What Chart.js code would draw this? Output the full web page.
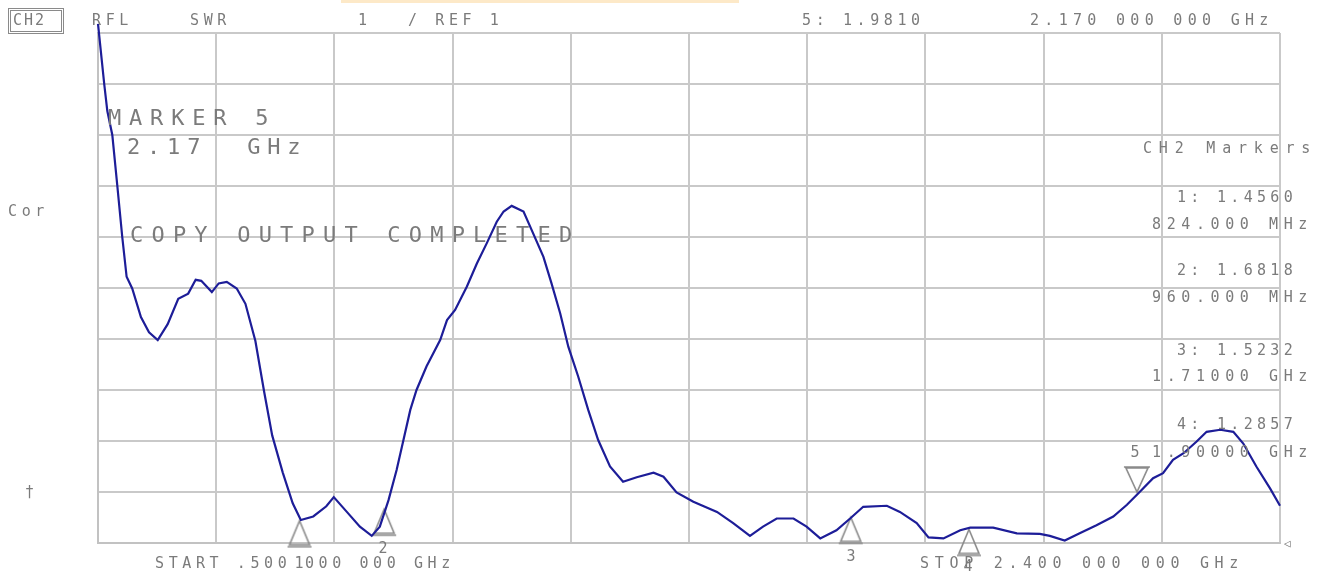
<!DOCTYPE html>
<html>
<head>
<meta charset="utf-8">
<script src="https://cdn.jsdelivr.net/npm/chart.js@4.4.1/dist/chart.umd.min.js"></script>
<style>
    body { margin: 0; background: #fff; }
    #wrap { position: relative; width: 1328px; height: 576px; overflow: hidden; }
    #chart { position: absolute; left: 0; top: 0; }
    .t { position: absolute; font-family: 'DejaVu Sans Mono', monospace; color: #7b7b7b; line-height: 1; white-space: pre; transform: translateY(-50%); font-size: 15px; letter-spacing: 4.6px; }
    .big { font-size: 22px; letter-spacing: 7px; }
    .mk { transform: translate(-50%, -50%); letter-spacing: 0; }
    #ch2box { position: absolute; left: 8px; top: 8px; width: 50px; height: 20px; border: 3px double #8a8a8a; }
    #topbar { position: absolute; left: 341px; top: 0; width: 398px; height: 3px; background: #fde9c8; }
</style>
</head>
<body>
<div id="wrap">
    <canvas id="chart" width="1328" height="576"></canvas>
    <div id="topbar"></div>
    <div id="ch2box"></div>
    <div class="t" style="left:13px; top:20px; letter-spacing:2px;">CH2</div>
    <div class="t" style="left:92px; top:20px;">RFL</div>
    <div class="t" style="left:190px; top:20px;">SWR</div>
    <div class="t" style="left:358px; top:20px;">1</div>
    <div class="t" style="left:408px; top:20px;">/ REF 1</div>
    <div class="t" style="left:802px; top:20px;">5: 1.9810</div>
    <div class="t" style="left:1030px; top:20px; letter-spacing:5.3px;">2.170 000 000 GHz</div>

    <div class="t big" style="left:108px; top:118px; letter-spacing:7.8px;">MARKER 5</div>
    <div class="t big" style="left:127px; top:147px; letter-spacing:6.8px;">2.17  GHz</div>
    <div class="t" style="left:8px; top:211px;">Cor</div>
    <div class="t big" style="left:130px; top:235px; letter-spacing:8.2px;">COPY OUTPUT COMPLETED</div>
    <div class="t" style="left:25px; top:492px;">†</div>

    <div class="t" style="left:1143px; top:148px; letter-spacing:6.8px;">CH2 Markers</div>
    <div class="t" style="left:1177px; top:197px; letter-spacing:4.3px;">1: 1.4560</div>
    <div class="t" style="left:1152px; top:224px; letter-spacing:5.6px;">824.000 MHz</div>
    <div class="t" style="left:1177px; top:270px; letter-spacing:4.3px;">2: 1.6818</div>
    <div class="t" style="left:1152px; top:297px; letter-spacing:5.6px;">960.000 MHz</div>
    <div class="t" style="left:1177px; top:350px; letter-spacing:4.3px;">3: 1.5232</div>
    <div class="t" style="left:1152px; top:376px; letter-spacing:5.6px;">1.71000 GHz</div>
    <div class="t" style="left:1177px; top:424px; letter-spacing:4.3px;">4: 1.2857</div>
    <div class="t" style="left:1152px; top:452px; letter-spacing:5.6px;">1.90000 GHz</div>

    <div class="t" style="left:155px; top:563px;">START .500 000 000 GHz</div>
    <div class="t" style="left:920px; top:563px; letter-spacing:5.7px;">STOP 2.400 000 000 GHz</div>
    <div class="t mk" style="left:299px; top:563px;">1</div>
    <div class="t mk" style="left:383px; top:548px;">2</div>
    <div class="t mk" style="left:851px; top:556px;">3</div>
    <div class="t mk" style="left:968px; top:566px;">4</div>
    <div class="t mk" style="left:1135px; top:452px;">5</div>
    <div class="t" style="left:1284px; top:543px; font-size:11px; letter-spacing:0;">◁</div>
</div>
<script>
// Balayage : fréquence (GHz) et SWR
const freqs = [
    0.500, 0.510, 0.515, 0.523, 0.531, 0.539, 0.546, 0.555, 0.569, 0.582,
    0.596, 0.612, 0.629, 0.645, 0.657, 0.666, 0.683, 0.694, 0.707, 0.723,
    0.737, 0.753, 0.767, 0.780, 0.797, 0.813, 0.826, 0.846, 0.867, 0.879,
    0.900, 0.921, 0.940, 0.953, 0.967, 0.980, 0.991, 1.002, 1.012, 1.028,
    1.050, 1.061, 1.074, 1.093, 1.109, 1.125, 1.141, 1.152, 1.165, 1.184,
    1.197, 1.216, 1.229, 1.243, 1.256, 1.272, 1.288, 1.304, 1.323, 1.344,
    1.366, 1.393, 1.409, 1.430, 1.457, 1.495, 1.521, 1.548, 1.569, 1.591,
    1.618, 1.639, 1.661, 1.687, 1.709, 1.730, 1.768, 1.789, 1.816, 1.835,
    1.859, 1.886, 1.902, 1.939, 1.977, 2.014, 2.030, 2.054, 2.078, 2.105,
    2.132, 2.154, 2.172, 2.196, 2.212, 2.228, 2.245, 2.266, 2.282, 2.304,
    2.325, 2.341, 2.362, 2.384, 2.400
];
const swr = [
    11.18, 10.00, 9.47, 9.00, 8.01, 7.00, 6.22, 5.99, 5.43, 5.13,
    4.98, 5.29, 5.79, 5.89, 6.16, 6.14, 5.92, 6.09, 6.12, 5.99,
    5.69, 4.96, 3.97, 3.11, 2.38, 1.78, 1.45, 1.52, 1.72, 1.90,
    1.61, 1.32, 1.14, 1.32, 1.84, 2.43, 3.02, 3.61, 4.00, 4.46,
    4.98, 5.37, 5.57, 6.03, 6.48, 6.88, 7.30, 7.50, 7.61, 7.50,
    7.14, 6.61, 6.09, 5.50, 4.85, 4.26, 3.61, 3.02, 2.50, 2.20,
    2.29, 2.38, 2.30, 1.99, 1.81, 1.61, 1.39, 1.14, 1.32, 1.48,
    1.48, 1.32, 1.09, 1.25, 1.48, 1.71, 1.73, 1.61, 1.39, 1.11,
    1.09, 1.25, 1.30, 1.30, 1.19, 1.18, 1.14, 1.05, 1.19, 1.35,
    1.52, 1.75, 1.97, 2.27, 2.37, 2.63, 2.76, 2.99, 3.18, 3.22,
    3.18, 2.95, 2.50, 2.07, 1.73
];

// Marqueurs (lecture de l'analyseur)
const markerFreqs = [0.824, 0.960, 1.710, 1.900, 2.170];
const markerSwr = [1.4560, 1.6818, 1.5232, 1.2857, 1.9810];

// Graduations de la grille
const gridFreqs = [0.50, 0.69, 0.88, 1.07, 1.26, 1.45, 1.64, 1.83, 2.02, 2.21, 2.40];
const gridSwr = [1, 2, 3, 4, 5, 6, 7, 8, 9, 10, 11];

// Triangle de marqueur, pointe au centre de l'image
function markerImage(down) {
    var c = document.createElement('canvas');
    c.width = 28;
    c.height = 60;
    var g = c.getContext('2d');
    g.strokeStyle = '#8a8a8a';
    g.lineWidth = 1.6;
    g.beginPath();
    if (down) {
        g.moveTo(14, 29); g.lineTo(3, 5); g.lineTo(25, 5); g.closePath();
        g.moveTo(1, 4); g.lineTo(27, 4);
    } else {
        g.moveTo(14, 31); g.lineTo(4, 55); g.lineTo(24, 55); g.closePath();
        g.moveTo(2, 57); g.lineTo(26, 57);
    }
    g.stroke();
    return c;
}
var upMark = markerImage(false);
var downMark = markerImage(true);

var ctx = document.getElementById('chart').getContext('2d');
new Chart(ctx, {
    type: 'line',
    data: {
        datasets: [{
            data: freqs.map(function(f, i) { return { x: f, y: swr[i] }; }),
            borderColor: '#1d1d98',
            borderWidth: 2.2,
            pointRadius: 0,
            tension: 0,
            clip: false
        }, {
            type: 'scatter',
            data: markerFreqs.map(function(f, i) { return { x: f, y: markerSwr[i] }; }),
            pointStyle: markerFreqs.map(function(f, i) { return i === 4 ? downMark : upMark; }),
            pointRadius: 10,
            clip: false
        }]
    },
    options: {
        responsive: false,
        animation: false,
        devicePixelRatio: 1,
        layout: { padding: { left: 98, right: 48, top: 33, bottom: 33 } },
        plugins: { legend: { display: false }, tooltip: { enabled: false } },
        scales: {
            x: {
                type: 'linear',
                min: 0.5,
                max: 2.4,
                afterBuildTicks: function(scale) { scale.ticks = gridFreqs.map(function(v) { return { value: v }; }); },
                ticks: { display: false },
                grid: { color: '#c9c9c9', lineWidth: 2, drawTicks: false },
                border: { color: '#c2c2c2', width: 2 }
            },
            y: {
                type: 'linear',
                min: 1,
                max: 11,
                afterBuildTicks: function(scale) { scale.ticks = gridSwr.map(function(v) { return { value: v }; }); },
                ticks: { display: false },
                grid: { color: '#c9c9c9', lineWidth: 2, drawTicks: false },
                border: { color: '#c2c2c2', width: 2 }
            }
        }
    }
});
</script>
</body>
</html>
